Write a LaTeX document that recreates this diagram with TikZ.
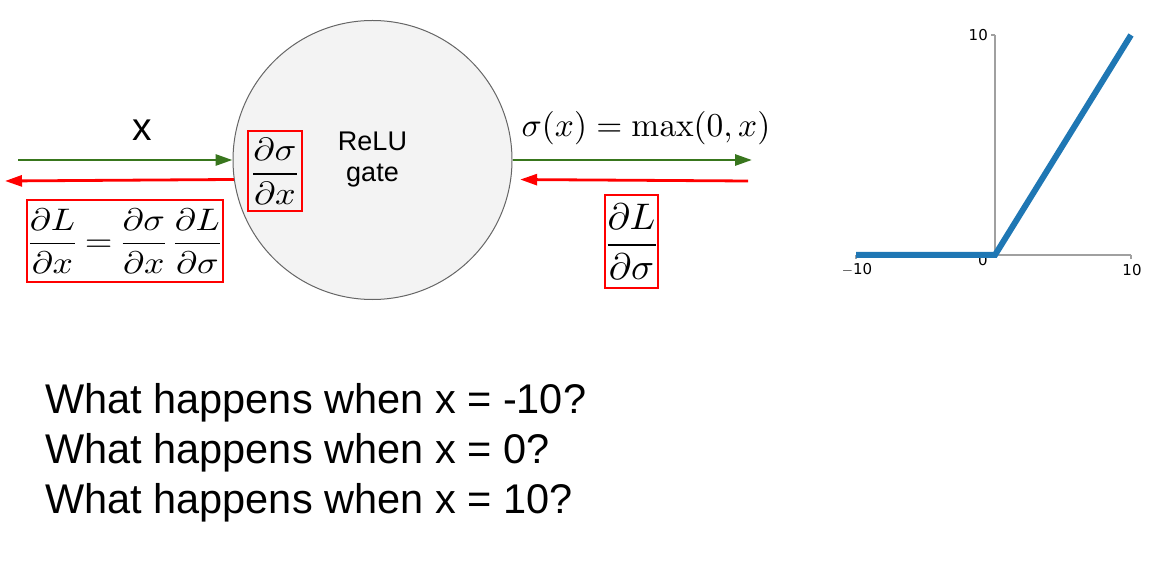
\documentclass[tikz,border=0pt]{standalone}
\usepackage{amsmath}
\usepackage[no-math]{fontspec}
\usepackage{graphicx}
\setmainfont{Liberation Sans}
\newfontfamily\tickfont{DejaVu Sans}
\usetikzlibrary{arrows.meta,positioning}
\definecolor{FwdGreen}{RGB}{56,118,29}
\definecolor{BwdRed}{RGB}{255,0,0}
\definecolor{GateGray}{RGB}{243,243,243}
\definecolor{GateEdge}{RGB}{102,102,102}
\definecolor{PlotBlue}{RGB}{31,119,180}
\definecolor{SpineGray}{RGB}{160,160,160}
\setlength{\nulldelimiterspace}{0pt}

\begin{document}
\begin{tikzpicture}[x=1pt,y=-1pt,
    fwd/.style={FwdGreen, line width=2.8pt, -{Triangle[length=17pt,width=11pt]}},
    bwd/.style={BwdRed, line width=2.8pt, -{Triangle[length=17pt,width=11pt]}},
    gradbox/.style={draw=BwdRed, line width=1.2pt, inner sep=0pt},
    question/.style={anchor=base west, inner sep=0pt, font=\fontsize{41.5}{50}\selectfont},
    ticklab/.style={inner sep=0pt, font=\tickfont\fontsize{15}{16}\selectfont}]
    \useasboundingbox (0,0) rectangle (1169,569);

    % gate
    \node[circle, draw=GateEdge, fill=GateGray, line width=1pt, minimum size=279pt,
          align=center, font=\fontsize{27}{31}\selectfont] (gate) at (372.5,160) {ReLU\\gate};

    % wires: forward in green, backward in red
    \coordinate (xin) at (18,160);
    \coordinate (xback) at (5,181);
    \coordinate (sigout) at (752,160);
    \coordinate (gradin) at (748,181);
    \draw[fwd] (xin) -- (gate.west);
    \draw[bwd] (gate.188.6) -- (xback);
    \draw[fwd] (gate.east) -- (sigout);
    \draw[bwd, shorten >=9pt] (gradin) -- (gate.-8.6);

    % labels
    \node[anchor=base, inner sep=0pt, font=\fontsize{39}{40}\selectfont] (xlab) at (142,141) {x};
    \node[anchor=base, inner sep=0pt] (siglab) at (646,137) {\scalebox{3.34}{$\sigma(x) = \max(0,x)$}};

    % gradient boxes
    \node[gradbox, minimum width=54pt, minimum height=80pt] (dsdx) at (275,171)
        {\resizebox*{43pt}{66pt}{$\displaystyle\frac{\partial\sigma}{\partial x}$}};
    \node[gradbox, minimum width=196pt, minimum height=82pt] (chain) at (125,241)
        {\resizebox*{190pt}{64pt}{$\displaystyle\frac{\partial L}{\partial x} = \frac{\partial\sigma}{\partial x}\;\frac{\partial L}{\partial\sigma}$}};
    \node[gradbox, minimum width=53pt, minimum height=93pt] (dLds) at (631.5,241.5)
        {\resizebox*{48pt}{76pt}{$\displaystyle\frac{\partial L}{\partial\sigma}$}};

    % questions
    \node[question] (q1) at (45,413) {What happens when x = -10?};
    \node[question] (q2) at (45,463) {What happens when x = 0?};
    \node[question] (q3) at (45,513) {What happens when x = 10?};

    % relu plot
    \draw[SpineGray, line width=1.2pt] (995,35) -- (995,255);
    \draw[SpineGray, line width=1.2pt] (856,255) -- (1131,255);
    \draw[SpineGray, line width=1.2pt] (991,35) -- (995,35);
    \draw[SpineGray, line width=1.2pt] (856,255) -- (856,259);
    \draw[SpineGray, line width=1.2pt] (1131,255) -- (1131,259);
    \node[ticklab, anchor=east] (ytop) at (988,35) {10};
    \node[ticklab] (yzero) at (983,260) {0};
    \node[ticklab] (xleft) at (857,270) {$-$10};
    \node[ticklab] (xright) at (1132,270) {10};
    \draw[PlotBlue, line width=6pt] (856,255) -- (995,255) -- (1131,35);
\end{tikzpicture}
\end{document}
